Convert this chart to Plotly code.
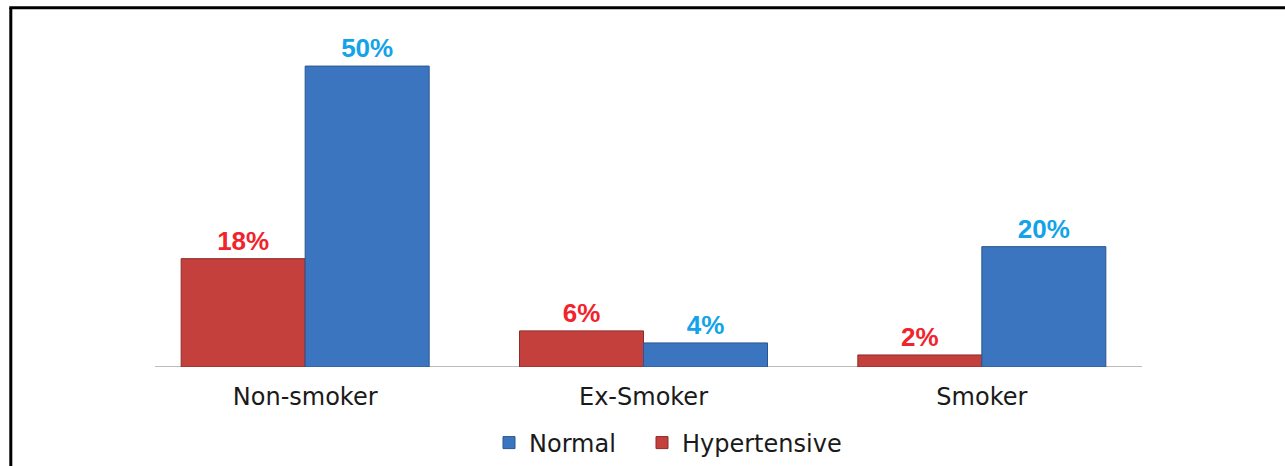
import plotly.graph_objects as go

categories = ["Non-smoker", "Ex-Smoker", "Smoker"]
hypertensive = [18, 6, 2]
normal = [50, 4, 20]

W, H = 1285, 466
ML, MR, MT, MB = 136, 134, 36, 99
plot_w = W - ML - MR
plot_h = H - MT - MB

fig = go.Figure()
fig.add_trace(go.Bar(
    name="Hypertensive", x=categories, y=hypertensive,
    marker=dict(color="#C3403C", line=dict(color="#8E2B28", width=1)),
    texttemplate="<b>%{y}%</b>", textposition="outside",
    textfont=dict(family="Liberation Sans", size=26, color="#F2232B"),
    legend="legend2", cliponaxis=False,
))
fig.add_trace(go.Bar(
    name="Normal", x=categories, y=normal,
    marker=dict(color="#3C75BF", line=dict(color="#2A5690", width=1)),
    texttemplate="<b>%{y}%</b>", textposition="outside",
    textfont=dict(family="Liberation Sans", size=26, color="#12A3E8"),
    legend="legend", cliponaxis=False,
))

def px_x(p):
    return (p - ML) / plot_w

def px_y(p):
    return (H - MB - p) / plot_h

legend_style = dict(orientation="h", xref="container", yref="container",
                    xanchor="left", y=1 - 443 / H, yanchor="middle",
                    font=dict(family="DejaVu Sans", size=24, color="#1a1a1a"),
                    itemwidth=30, bgcolor="rgba(0,0,0,0)")

fig.update_layout(
    width=W, height=H,
    margin=dict(l=ML, r=MR, t=MT, b=MB, autoexpand=False),
    paper_bgcolor="white", plot_bgcolor="white",
    barmode="group", bargap=0.267, bargroupgap=0,
    font=dict(family="DejaVu Sans", color="#1a1a1a"),
    xaxis=dict(showline=False, ticks="", automargin=False, ticklabelstandoff=13,
               tickfont=dict(family="DejaVu Sans", size=24, color="#1a1a1a"),
               showgrid=False, zeroline=False),
    yaxis=dict(range=[0, 55], visible=False, showgrid=False, zeroline=False,
               automargin=False),
    showlegend=True,
    legend=dict(x=489 / W, **legend_style),
    legend2=dict(x=642 / W, **legend_style),
    shapes=[
        dict(type="line", xref="paper", yref="y", x0=px_x(155), x1=px_x(1142),
             y0=0, y1=0, line=dict(color="#A6A6A6", width=1.5), layer="below"),
        dict(type="line", xref="paper", yref="paper", x0=px_x(10.8), x1=px_x(10.8),
             y0=px_y(7.7), y1=px_y(480), line=dict(color="black", width=3)),
        dict(type="line", xref="paper", yref="paper", x0=px_x(9.3), x1=px_x(1300),
             y0=px_y(7.7), y1=px_y(7.7), line=dict(color="black", width=3)),
    ],
)

fig.write_html("out.html", config={"displayModeBar": False},
               post_script="document.body.style.margin='0px';")
